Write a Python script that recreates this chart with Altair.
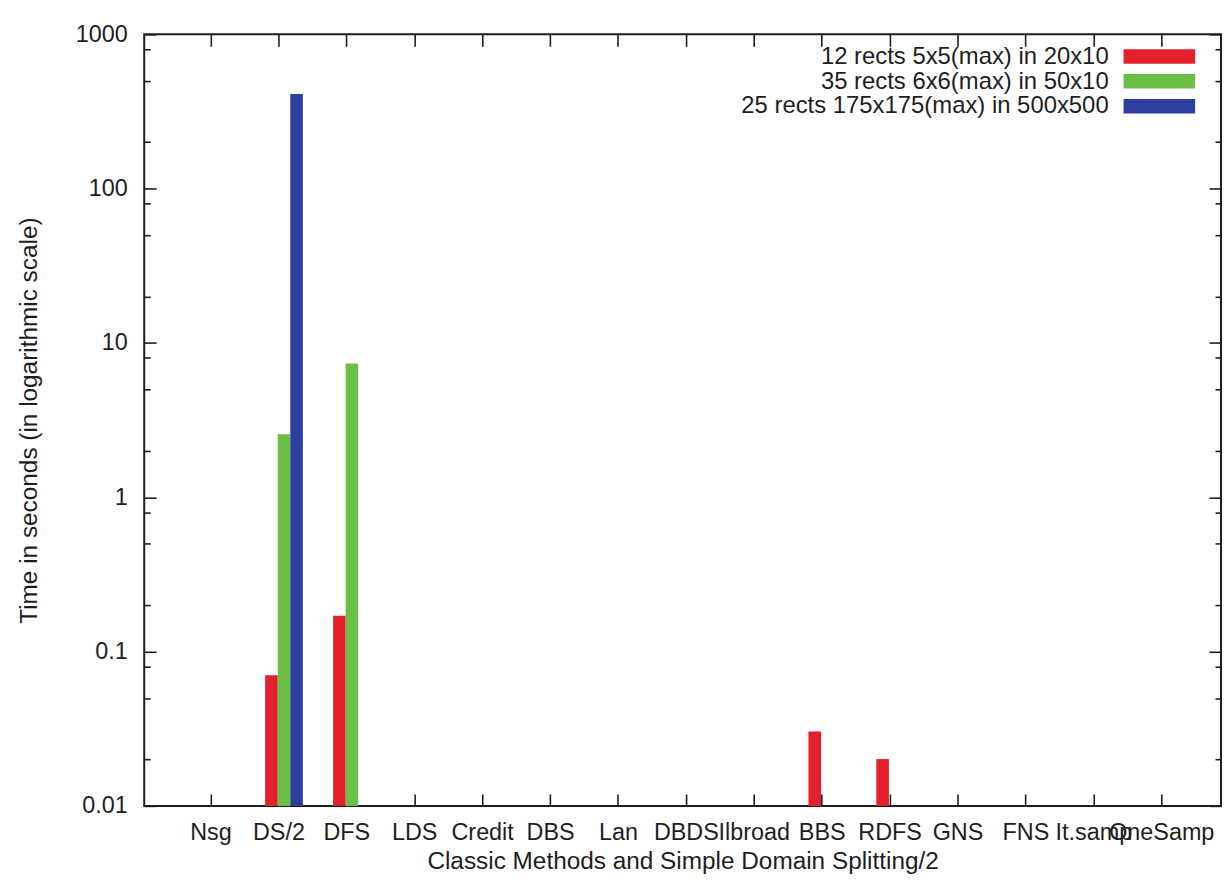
import json
import altair as alt
import pandas as pd

# ---------------- data ----------------
categories = ["Nsg", "DS/2", "DFS", "LDS", "Credit", "DBS", "Lan", "DBDS",
              "Ilbroad", "BBS", "RDFS", "GNS", "FNS", "It.samp", "OneSamp"]
series = ["12 rects 5x5(max) in 20x10",
          "35 rects 6x6(max) in 50x10",
          "25 rects 175x175(max) in 500x500"]
red_values = [None, 0.0702, 0.171, None, None, None, None, None, None,
              0.0304, 0.0201, None, None, None, None]
green_values = [None, 2.56, 7.37, None, None, None, None, None, None,
                None, None, None, None, None, None]
blue_values = [None, 410, None, None, None, None, None, None, None,
               None, None, None, None, None, None]
y_major = [0.01, 0.1, 1, 10, 100, 1000]
y_minor = [0.02, 0.05, 0.08, 0.2, 0.5, 0.8, 2, 5, 8, 20, 50, 80, 200, 500, 800]
x_ticks = list(range(len(categories)))

colors = ["#e3202b", "#6bbf47", "#2c3f9e"]

rows = []
for s_i, vals in enumerate([red_values, green_values, blue_values]):
    for c_i, v in enumerate(vals):
        if v is not None:
            rows.append({"category": categories[c_i], "idx": c_i,
                         "series": series[s_i], "s": s_i, "value": v})
df = pd.DataFrame(rows)
tick_df = pd.DataFrame({"x": [0], "y": [1]})
legend_df = pd.DataFrame({"series": series})

# ---------------- layout / style ----------------
W, H = 1083, 776
BAR_W = 0.185
START = -0.195
FONT = "Liberation Sans"
INK = "#1e1e1e"

xscale = alt.Scale(domain=[-0.976, 14.88], nice=False, zero=False)
yscale = alt.Scale(type="log", domain=[0.01, 1000], nice=False)
cscale = alt.Scale(domain=series, range=colors)

label_expr = json.dumps(categories) + "[datum.value]"

x_main_axis = alt.Axis(orient="bottom", values=x_ticks, labelExpr=label_expr,
                       tickSize=0, ticks=False, domain=False, grid=False,
                       labelOverlap=False, labelFlush=False, labelBound=False,
                       labelPadding=15, labelFontSize=23.5, labelColor=INK,
                       labelFont=FONT,
                       title="Classic Methods and Simple Domain Splitting/2",
                       titleFontSize=24.5, titleFontWeight="normal",
                       titleColor=INK, titleFont=FONT,
                       titleBaseline="alphabetic", titleY=63)
y_main_axis = alt.Axis(orient="left", values=y_major, format="~g",
                       ticks=False, tickSize=0, domain=False, grid=False,
                       labelOverlap=False, labelFlush=False, labelBound=False,
                       labelPadding=17, labelFontSize=23.5, labelColor=INK,
                       labelFont=FONT, labelBaseline="middle",
                       title="Time in seconds (in logarithmic scale)",
                       titleFontSize=24.5, titleFontWeight="normal",
                       titleColor=INK, titleFont=FONT,
                       titleBaseline="alphabetic", titleX=-108, titleAngle=270)

bars = alt.Chart(df).transform_calculate(
    x0=f"datum.idx + {START} + datum.s * {BAR_W}",
    x1=f"datum.idx + {START} + (datum.s + 1) * {BAR_W}",
).mark_bar(cornerRadius=0).encode(
    x=alt.X("x0:Q", scale=xscale, axis=x_main_axis),
    x2="x1:Q",
    y=alt.Y("value:Q", scale=yscale, axis=y_main_axis),
    y2=alt.datum(0.01),
    color=alt.Color("series:N", scale=cscale, legend=None),
)


def tick_axis(orient, values, size):
    return alt.Axis(orient=orient, values=values, offset=-size, tickSize=size,
                    tickWidth=1.6, tickColor=INK, domain=False, labels=False,
                    grid=False, title=None)


def tick_layer(x_axis, y_axis):
    return alt.Chart(tick_df).mark_point(opacity=0).encode(
        x=alt.X("x:Q", scale=xscale, axis=x_axis),
        y=alt.Y("y:Q", scale=yscale, axis=y_axis),
    )


t1 = tick_layer(tick_axis("bottom", x_ticks, 12), tick_axis("left", y_major, 12))
t2 = tick_layer(tick_axis("top", x_ticks, 12), tick_axis("right", y_major, 12))
t3 = tick_layer(None, tick_axis("left", y_minor, 6))
t4 = tick_layer(None, tick_axis("right", y_minor, 6))

legend_layers = []
for i, s in enumerate(series):
    base = alt.Chart(legend_df).transform_filter(alt.datum.series == s)
    txt = base.mark_text(align="right", baseline="alphabetic", fontSize=24,
                         font=FONT, color=INK).encode(
        text="series:N",
        x=alt.value(970),
        y=alt.value(29.5 + 25 * i),
    )
    sw = base.mark_rect().encode(
        x=alt.value(985), x2=alt.value(1057),
        y=alt.value(15 + 25 * i), y2=alt.value(29.5 + 25 * i),
        color=alt.Color("series:N", scale=cscale, legend=None),
    )
    legend_layers += [txt, sw]

chart = alt.layer(bars, t1, t2, t3, t4, *legend_layers).resolve_axis(
    x="independent", y="independent"
).properties(
    width=W, height=H,
    autosize=alt.AutoSizeParams(type="none"),
    padding={"left": 137, "top": 24, "right": 2, "bottom": 68},
    background="white",
).configure_view(
    stroke=INK, strokeWidth=2
)

chart.save("out.html", embed_options={"renderer": "svg", "actions": False})
